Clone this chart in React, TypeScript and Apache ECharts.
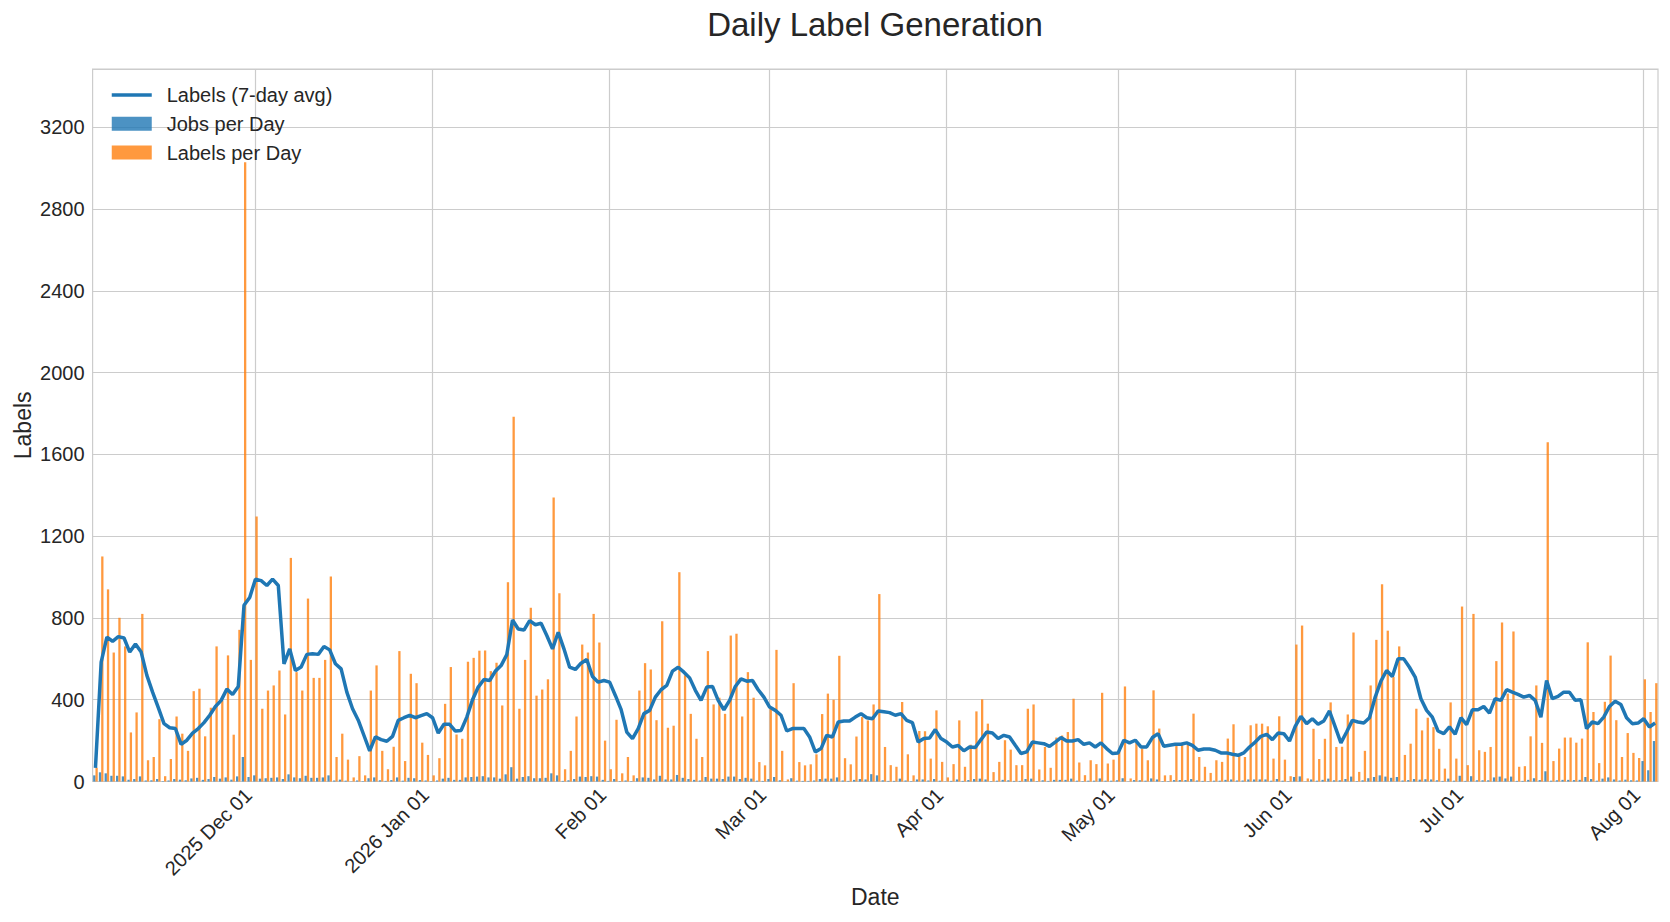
import React, { useEffect, useRef } from "react";
import * as echarts from "echarts";

// ---- data ----
const START_DATE = "2025-11-03";

const LABELS_PER_DAY = [
  67, 1101, 940, 631, 801, 661, 240, 338, 820, 104,
  120, 305, 26, 110, 318, 234, 150, 442, 454, 221,
  361, 661, 397, 617, 229, 742, 3030, 595, 1297, 356,
  445, 470, 543, 328, 1094, 535, 445, 895, 507, 507,
  595, 1003, 120, 234, 107, 20, 124, 30, 445, 568,
  150, 60, 170, 638, 100, 527, 481, 190, 130, 30,
  114, 380, 560, 230, 209, 586, 605, 640, 641, 540,
  581, 372, 975, 1785, 356, 595, 850, 420, 450, 500,
  1390, 921, 60, 150, 318, 670, 631, 820, 680, 200,
  60, 302, 40, 120, 30, 445, 579, 548, 300, 784,
  263, 273, 1024, 520, 331, 209, 120, 638, 377, 410,
  331, 714, 723, 318, 535, 410, 95, 79, 360, 644,
  150, 10, 481, 95, 79, 84, 133, 330, 430, 400,
  615, 114, 84, 220, 315, 299, 377, 917, 169, 80,
  72, 389, 133, 30, 247, 246, 112, 348, 96, 20,
  85, 299, 72, 180, 343, 402, 283, 46, 96, 202,
  156, 80, 80, 356, 377, 59, 169, 67, 215, 225,
  242, 405, 93, 31, 104, 85, 434, 88, 107, 153,
  465, 15, 189, 161, 104, 446, 259, 30, 31, 180,
  182, 182, 332, 120, 72, 42, 104, 96, 210, 280,
  137, 120, 275, 283, 283, 270, 112, 319, 107, 26,
  670, 763, 15, 258, 110, 209, 387, 169, 170, 328,
  729, 47, 150, 470, 693, 965, 738, 511, 661, 130,
  185, 356, 250, 312, 266, 160, 63, 387, 112, 856,
  80, 820, 153, 145, 169, 589, 778, 430, 734, 72,
  75, 221, 470, 189, 1660, 100, 161, 215, 215, 190,
  210, 681, 340, 90, 390, 616, 300, 120, 237, 140,
  115, 500, 340, 481,
];

const JOBS_PER_DAY = [
  30, 45, 40, 28, 28, 25, 8, 12, 25, 5,
  6, 12, 2, 5, 12, 9, 6, 15, 18, 8,
  12, 22, 14, 20, 9, 25, 120, 22, 30, 14,
  16, 18, 20, 12, 35, 20, 16, 28, 18, 18,
  20, 30, 5, 9, 4, 1, 5, 2, 16, 20,
  6, 3, 7, 20, 4, 18, 16, 7, 5, 2,
  5, 14, 18, 8, 8, 20, 22, 24, 26, 20,
  20, 14, 35, 70, 14, 22, 26, 16, 16, 18,
  40, 30, 3, 6, 12, 24, 22, 26, 24, 8,
  3, 12, 2, 5, 2, 16, 20, 18, 10, 28,
  10, 10, 32, 18, 12, 8, 5, 22, 14, 14,
  12, 24, 24, 12, 18, 14, 4, 3, 12, 22,
  6, 1, 16, 4, 3, 3, 5, 12, 14, 14,
  20, 5, 3, 8, 12, 10, 36, 30, 6, 3,
  3, 14, 5, 2, 10, 10, 5, 12, 4, 1,
  3, 10, 3, 7, 12, 14, 10, 2, 4, 8,
  6, 3, 3, 12, 14, 2, 6, 3, 8, 8,
  8, 14, 4, 2, 4, 4, 15, 4, 4, 6,
  16, 1, 7, 6, 4, 15, 10, 2, 2, 7,
  7, 7, 12, 5, 3, 2, 4, 4, 8, 10,
  5, 5, 10, 10, 10, 10, 4, 12, 4, 2,
  22, 25, 1, 10, 4, 8, 14, 6, 6, 12,
  24, 2, 6, 16, 22, 30, 24, 18, 22, 5,
  7, 12, 9, 11, 10, 6, 3, 14, 4, 28,
  3, 26, 6, 6, 6, 20, 24, 15, 24, 3,
  3, 8, 16, 7, 50, 4, 6, 8, 8, 7,
  8, 22, 12, 4, 14, 20, 10, 5, 9, 6,
  5, 100, 55, 198,
];

const LABELS_7DAY_AVG = [
  67, 584, 706, 686, 709, 702, 633, 673, 633, 519,
  437, 361, 283, 263, 259, 182, 202, 237, 259, 288,
  324, 367, 397, 452, 426, 465, 862, 900, 990, 983,
  959, 990, 959, 576, 649, 543, 560, 622, 625, 622,
  661, 644, 576, 551, 437, 356, 300, 225, 150, 218,
  205, 197, 221, 299, 312, 324, 312, 322, 332, 312,
  237, 280, 280, 247, 250, 315, 400, 462, 499, 494,
  540, 567, 621, 790, 746, 741, 787, 767, 774, 714,
  649, 730, 649, 559, 548, 579, 597, 514, 486, 494,
  486, 421, 353, 242, 210, 259, 332, 348, 413, 449,
  470, 540, 559, 535, 507, 446, 397, 462, 465, 397,
  351, 397, 465, 502, 491, 494, 449, 413, 364, 348,
  324, 247, 259, 259, 259, 218, 145, 161, 226, 218,
  291, 296, 296, 315, 332, 312, 307, 345, 341, 337,
  324, 332, 299, 288, 193, 210, 213, 254, 210, 193,
  169, 176, 150, 169, 166, 205, 242, 237, 210, 226,
  218, 177, 137, 145, 193, 189, 185, 172, 193, 215,
  198, 198, 205, 182, 189, 169, 189, 161, 137, 140,
  202, 189, 202, 169, 169, 215, 234, 172, 177, 182,
  182, 189, 177, 153, 159, 159, 153, 140, 140, 133,
  128, 140, 169, 193, 221, 231, 205, 237, 234, 198,
  270, 319, 283, 307, 280, 296, 345, 267, 189, 242,
  299, 291, 286, 312, 413, 491, 543, 514, 600, 600,
  559, 511, 405, 348, 315, 247, 234, 267, 231, 312,
  278, 351, 351, 367, 335, 405, 397, 449, 437, 426,
  413, 421, 397, 315, 494, 405, 416, 437, 437, 397,
  400, 259, 291, 283, 315, 367, 393, 377, 312, 283,
  286, 307, 267, 286,
];

const X_TICK_LABELS: Record<string, string> = {
  "2025-12-01": "2025 Dec 01",
  "2026-01-01": "2026 Jan 01",
  "2026-02-01": "Feb 01",
  "2026-03-01": "Mar 01",
  "2026-04-01": "Apr 01",
  "2026-05-01": "May 01",
  "2026-06-01": "Jun 01",
  "2026-07-01": "Jul 01",
  "2026-08-01": "Aug 01",
};

const Y_MAX = 3485;
const Y_INTERVAL = 400;

function buildDates(start: string, n: number): string[] {
  const base = new Date(start + "T00:00:00Z").getTime();
  const out: string[] = [];
  for (let i = 0; i < n; i++) {
    out.push(new Date(base + i * 86400000).toISOString().slice(0, 10));
  }
  return out;
}

const DATES = buildDates(START_DATE, LABELS_PER_DAY.length);

const TEXT = "#262626";
const GRID = "#cccccc";
const FONT = "'Liberation Sans', Arial, sans-serif";
const LINE_BLUE = "#1f77b4";

export default function App() {
  const ref = useRef<HTMLDivElement>(null);

  useEffect(() => {
    if (!ref.current) return;
    const chart = echarts.init(ref.current, undefined, { renderer: "svg" });
    const isTick = (_i: number, v: string) => v in X_TICK_LABELS;
    chart.setOption({
      animation: false,
      backgroundColor: "#ffffff",
      textStyle: { fontFamily: FONT },
      title: {
        text: "Daily Label Generation",
        left: 875,
        top: 8,
        padding: 0,
        textAlign: "center",
        textStyle: { fontSize: 33, fontWeight: "normal", color: TEXT, fontFamily: FONT },
      },
      legend: {
        orient: "vertical",
        left: 110,
        top: 85,
        padding: 0,
        itemWidth: 40,
        itemHeight: 14,
        itemGap: 8.75,
        textStyle: { fontSize: 20, color: TEXT, fontFamily: FONT, padding: [0, 0, 0, 10] },
        data: [
          {
            name: "Labels (7-day avg)",
            itemStyle: { opacity: 0 },
            lineStyle: { width: 3.5, color: LINE_BLUE },
          },
          { name: "Jobs per Day", icon: "rect" },
          { name: "Labels per Day", icon: "rect" },
        ],
      },
      grid: {
        left: 92.6,
        right: 12,
        top: 69.2,
        bottom: 140.5,
        show: true,
        borderColor: GRID,
        borderWidth: 1.2,
        backgroundColor: "#ffffff",
        containLabel: false,
        outerBoundsMode: "none",
      },
      xAxis: {
        type: "category",
        data: DATES,
        boundaryGap: true,
        axisLine: { show: false },
        axisTick: { show: false },
        axisLabel: {
          interval: isTick,
          formatter: (v: string) => X_TICK_LABELS[v] || "",
          rotate: 45,
          margin: 3,
          padding: [0, 10, 0, 0],
          fontSize: 20,
          color: TEXT,
          fontFamily: FONT,
        },
        splitLine: {
          show: true,
          interval: isTick,
          alignWithLabel: true,
          lineStyle: { color: GRID, width: 1.2 },
        },
        name: "Date",
        nameLocation: "middle",
        nameGap: 104,
        nameMoveOverlap: false,
        nameTextStyle: { fontSize: 23, color: TEXT, fontFamily: FONT },
      },
      yAxis: {
        type: "value",
        min: 0,
        max: Y_MAX,
        interval: Y_INTERVAL,
        axisLine: { show: false },
        axisTick: { show: false },
        axisLabel: {
          showMaxLabel: false,
          formatter: (v: number) => String(v),
          margin: 8,
          fontSize: 20,
          color: TEXT,
          fontFamily: FONT,
        },
        splitLine: { show: true, lineStyle: { color: GRID, width: 1.2 } },
        name: "Labels",
        nameLocation: "middle",
        nameGap: 58.5,
        nameMoveOverlap: false,
        nameTextStyle: { fontSize: 23, color: TEXT, fontFamily: FONT },
      },
      series: [
        {
          name: "Labels (7-day avg)",
          type: "line",
          data: LABELS_7DAY_AVG,
          symbol: "none",
          showSymbol: false,
          z: 5,
          lineStyle: { color: LINE_BLUE, width: 3.5 },
          itemStyle: { color: LINE_BLUE },
        },
        {
          name: "Jobs per Day",
          type: "bar",
          data: JOBS_PER_DAY,
          barWidth: 2.3,
          barGap: "0%",
          itemStyle: { color: "rgba(31,119,180,0.8)" },
        },
        {
          name: "Labels per Day",
          type: "bar",
          data: LABELS_PER_DAY,
          barWidth: 2.3,
          barGap: "0%",
          itemStyle: { color: "rgba(255,127,14,0.8)" },
        },
      ],
    });
    return () => chart.dispose();
  }, []);

  return (
    <div
      ref={ref}
      style={{ position: "absolute", left: 0, top: 0, width: 1670, height: 922, background: "#fff" }}
    />
  );
}
